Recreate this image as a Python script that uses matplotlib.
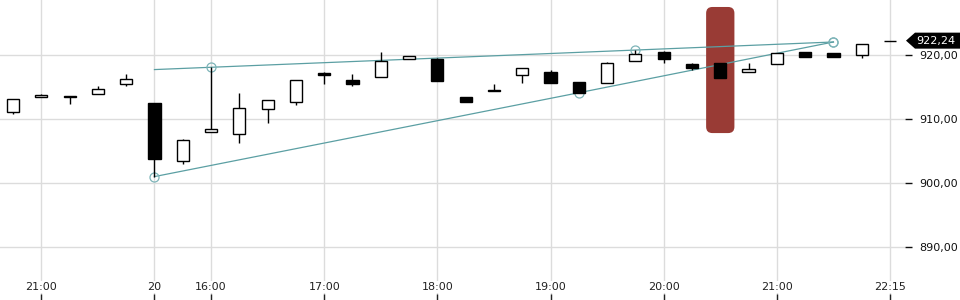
# ==============================
# INTRADAY CANDLES WITH TREND LINES
# ==============================

import matplotlib
matplotlib.use("Agg")
import matplotlib.pyplot as plt
from matplotlib.patches import FancyBboxPatch, Polygon
from matplotlib.ticker import FuncFormatter, FixedLocator
from matplotlib.transforms import IdentityTransform

# ==============================
# DATA
# ==============================

opens = [911.14, 913.40, 913.60, 913.86, 915.42, 912.50, 903.40, 907.90, 907.60, 911.50,
         912.70, 917.20, 916.10, 916.60, 919.30, 919.40, 913.50, 914.50, 916.80, 917.30,
         915.80, 915.70, 919.00, 920.50, 918.55, 918.70, 917.30, 918.55, 920.42, 920.30,
         920.00, 922.24]
closes = [913.08, 913.75, 913.40, 914.64, 916.20, 903.80, 906.70, 908.40, 911.70, 912.90,
          916.05, 916.80, 915.40, 919.00, 919.85, 916.00, 912.70, 914.30, 917.90, 915.70,
          914.10, 918.70, 920.10, 919.30, 917.92, 916.45, 917.80, 920.27, 919.73, 919.64,
          921.67, 922.24]
highs = [913.08, 913.90, 913.60, 915.16, 917.03, 912.50, 906.80, 918.08, 914.10, 912.90,
         916.05, 917.30, 917.00, 920.50, 919.85, 919.50, 913.50, 915.50, 917.90, 917.60,
         915.80, 918.90, 920.80, 920.60, 918.70, 918.70, 918.75, 920.27, 920.42, 920.30,
         921.67, 922.24]
lows = [910.83, 913.40, 912.40, 913.86, 915.20, 901.00, 902.90, 907.90, 906.30, 909.30,
        912.20, 915.50, 915.20, 916.60, 919.30, 916.00, 912.70, 914.30, 915.70, 915.70,
        914.00, 915.70, 919.00, 918.80, 917.70, 916.45, 917.30, 918.55, 919.73, 919.64,
        919.60, 922.24]

# x tick positions (candle index) and labels
tick_idx = [1, 5, 7, 11, 15, 19, 23, 27, 31]
tick_labels = ["21:00", "20", "16:00", "17:00", "18:00", "19:00", "20:00", "21:00", "22:15"]
price_ticks = [890, 900, 910, 920]

# trend lines (first point of upper line has no marker)
upper_x = [5, 7, 22, 29]
upper_y = [917.72, 918.08, 920.77, 922.03]
lower_x = [5, 20, 29]
lower_y = [901.00, 914.10, 922.03]

# highlighted candle
highlight_idx = 25
highlight_low = 907.8
highlight_high = 927.5

last_price = closes[-1]

# ==============================
# FIGURE
# ==============================

plt.rcParams["font.family"] = ["DejaVu Sans"]

fig = plt.figure(figsize=(9.6, 3.0), dpi=100)
ax = fig.add_axes([0, 0, 905 / 960, 1])

x_min, x_max = -0.46, 31.53
y_min, y_max = 881.72, 928.59
ax.set_xlim(x_min, x_max)
ax.set_ylim(y_min, y_max)

for s in ax.spines.values():
    s.set_visible(False)

# grid
grid_color = "#dcdcdc"
for t in tick_idx:
    ax.axvline(t, color=grid_color, lw=1, zorder=0)
for p in price_ticks:
    ax.axhline(p, color=grid_color, lw=1, zorder=0)

# highlight box (rounded, aspect corrected)
px_per_x = 905 / (x_max - x_min)
px_per_y = 300 / (y_max - y_min)
box = FancyBboxPatch((highlight_idx - 0.5, highlight_low), 1.0, highlight_high - highlight_low,
                     boxstyle="round,pad=0,rounding_size=0.22",
                     mutation_aspect=px_per_x / px_per_y,
                     facecolor="#993b35", edgecolor="none", zorder=1)
ax.add_patch(box)

# trend lines
teal = "#5b9fa3"
ax.plot(upper_x, upper_y, color=teal, lw=0.9, zorder=2)
ax.plot(lower_x, lower_y, color=teal, lw=0.9, zorder=2)
ax.plot(upper_x[1:], upper_y[1:], "o", ms=6.5, mfc="none", mec="#7db4b8", mew=0.9, zorder=2)
ax.plot(lower_x, lower_y, "o", ms=6.5, mfc="none", mec="#7db4b8", mew=0.9, zorder=2)

# candles
for i in range(len(opens)):
    o, c, h, l = opens[i], closes[i], highs[i], lows[i]
    ax.plot([i, i], [l, h], color="black", lw=1, zorder=3, solid_capstyle="butt")
    fill = "white" if c >= o else "black"
    ax.bar(i, abs(c - o), bottom=min(o, c), width=0.43, facecolor=fill,
           edgecolor="black", linewidth=1, zorder=4)

# ==============================
# AXES
# ==============================

ax.xaxis.set_major_locator(FixedLocator(tick_idx))
ax.set_xticklabels(tick_labels)
ax.tick_params(axis="x", direction="in", length=4, width=1, pad=-13,
               labelsize=8, colors="#222222")
for lbl in ax.get_xticklabels():
    lbl.set_bbox(dict(facecolor="white", edgecolor="none", pad=1))

ax.yaxis.tick_right()
ax.yaxis.set_major_locator(FixedLocator(price_ticks))
ax.yaxis.set_major_formatter(FuncFormatter(lambda v, p: f"{v:.2f}".replace(".", ",")))
ax.tick_params(axis="y", direction="out", length=5, width=1, pad=5,
               labelsize=8, colors="#111111")

# ==============================
# LAST PRICE TAG
# ==============================

fig.canvas.draw()
yc = ax.transData.transform((0, last_price))[1]
tag = Polygon([(906, yc), (915, yc + 8), (960, yc + 8), (960, yc - 8), (915, yc - 8)],
              closed=True, facecolor="black", edgecolor="none",
              transform=IdentityTransform())
fig.add_artist(tag)
fig.text(916 / 960, yc / 300, f"{last_price:.2f}".replace(".", ","), color="white",
         fontsize=8, ha="left", va="center")

fig.savefig("out.png", dpi=100)
